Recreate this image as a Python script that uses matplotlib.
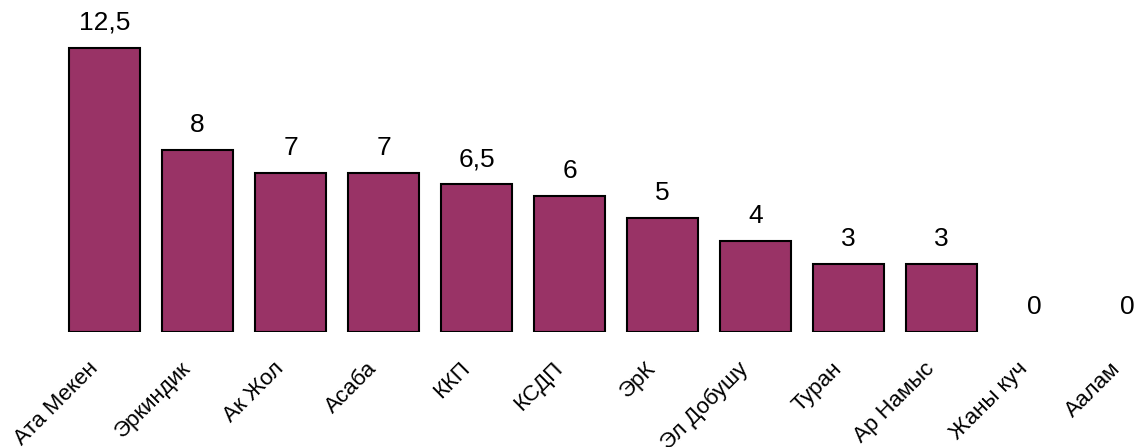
import matplotlib
matplotlib.use('Agg')
import matplotlib.pyplot as plt
import matplotlib.transforms as mtransforms
import numpy as np

plt.rcParams['font.family'] = ['Liberation Sans', 'DejaVu Sans']

# Данные
partii = ['Ата Мекен', 'Эркиндик', 'Ак Жол', 'Асаба', 'ККП', 'КСДП', 'ЭрК',
          'Эл Добушу', 'Туран', 'Ар Намыс', 'Жаны куч', 'Аалам']
znacheniya = [12.5, 8, 7, 7, 6.5, 6, 5, 4, 3, 3, 0, 0]

fig = plt.figure(figsize=(11.37, 4.47), dpi=100)
ax = fig.add_axes([0, 115 / 447, 1, 332 / 447])

x = np.arange(len(partii))
# у нулевых столбцов контур не рисуем
kontur = ['black' if v > 0 else 'none' for v in znacheniya]
bars = ax.bar(x, znacheniya, width=0.763, color='#993366',
              edgecolor=kontur, linewidth=1.5)

ax.set_xlim(-1.124, 11.102)
ax.set_ylim(0, 14.61)

# Подписи значений над столбцами
for bar, val in zip(bars, znacheniya):
    txt = f'{val:g}'.replace('.', ',')
    ax.annotate(txt, xy=(bar.get_x() + bar.get_width() / 2, bar.get_height()),
                xytext=(0, 13), textcoords='offset pixels',
                ha='center', va='bottom', fontsize=19, annotation_clip=False)

# Подписи категорий
ax.set_xticks(x)
ax.set_xticklabels(partii, rotation=45, ha='right', va='baseline',
                   rotation_mode='anchor', fontsize=16)
ax.tick_params(axis='x', length=0, pad=27)
sdvig = mtransforms.ScaledTranslation(-6 / 100, 0, fig.dpi_scale_trans)
for lab in ax.get_xticklabels():
    lab.set_transform(lab.get_transform() + sdvig)
ax.set_yticks([])
for s in ax.spines.values():
    s.set_visible(False)

fig.savefig('out.png', dpi=100)
